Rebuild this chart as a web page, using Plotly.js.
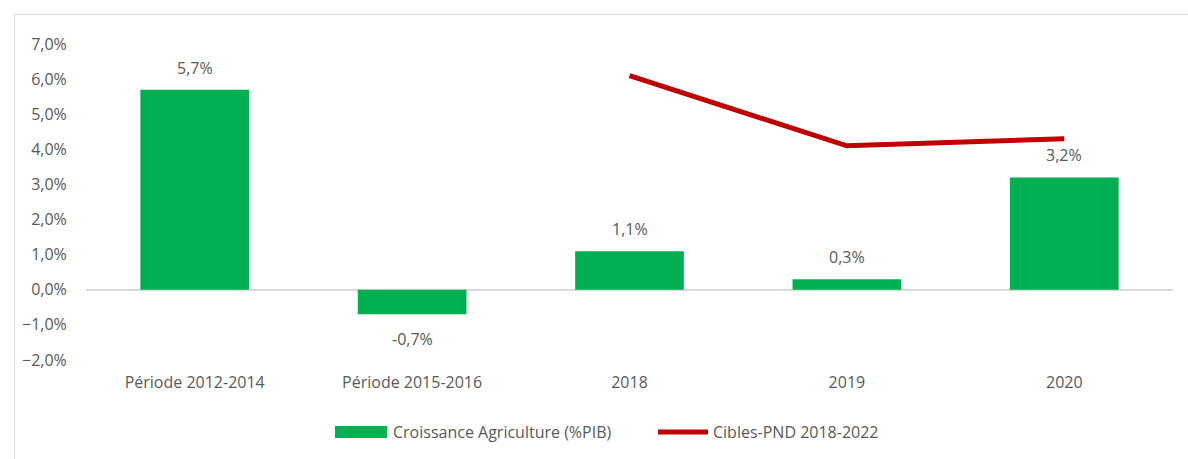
<!DOCTYPE html>
<html>
<head>
<meta charset="utf-8">
<script src="https://cdn.plot.ly/plotly-3.0.1.min.js"></script>
<style>
  html, body { margin:0; padding:0; background:#fff; }
  #wrap { position:relative; width:1188px; height:459px; overflow:hidden; }
  #chart { width:1188px; height:459px; }
  #frame { position:absolute; left:14px; top:14px; width:1300px; height:600px;
           border-left:1px solid #d9d9d9; border-top:1px solid #d9d9d9; pointer-events:none; }
</style>
</head>
<body>
<div id="wrap"><div id="chart"></div><div id="frame"></div></div>
<script>
const categories = ["Période 2012-2014", "Période 2015-2016", "2018", "2019", "2020"];
const croissance = [5.7, -0.7, 1.1, 0.3, 3.2];
const ciblesCats = ["2018", "2019", "2020"];
const cibles = [6.1, 4.1, 4.3];
const seriesNames = ["Croissance Agriculture (%PIB)", "Cibles-PND 2018-2022"];

const green = "#00B050", red = "#C00000", txt = "#595959";
const font = "Open Sans, sans-serif";

const traces = [
  { type:"bar", x:categories, y:croissance, name:seriesNames[0],
    marker:{color:green}, showlegend:false },
  { type:"scatter", mode:"lines", x:ciblesCats, y:cibles, name:seriesNames[1],
    line:{color:red, width:5}, showlegend:false }
];

const fmt = v => v.toFixed(1).replace(".", ",") + "%";
const annotations = croissance.map((v, i) => ({
  x: i, y: v, xref:"x", yref:"y", text: fmt(v), showarrow:false,
  yanchor:"middle", yshift: v >= 0 ? 22 : -25,
  font:{family:font, size:16, color:txt}
}));

// custom legend
const plotL = 86, plotW = 1188 - 86 - 15, plotT = 44, plotH = 459 - 44 - 99;
const px = x => (x - plotL) / plotW;
const py = y => 1 - (y - plotT) / plotH;
const shapes = [
  { type:"rect", xref:"paper", yref:"paper", x0:px(335), x1:px(387), y0:py(438), y1:py(426),
    fillcolor:green, line:{width:0} },
  { type:"line", xref:"paper", yref:"paper", x0:px(658), x1:px(708), y0:py(432), y1:py(432),
    line:{color:red, width:5} }
];
annotations.push(
  { xref:"paper", yref:"paper", x:px(391), y:py(432), xanchor:"left", yanchor:"middle",
    text:seriesNames[0], showarrow:false, font:{family:font, size:16, color:txt} },
  { xref:"paper", yref:"paper", x:px(711), y:py(432), xanchor:"left", yanchor:"middle",
    text:seriesNames[1], showarrow:false, font:{family:font, size:16, color:txt} }
);

const layout = {
  width:1188, height:459,
  margin:{l:plotL, r:15, t:plotT, b:99, pad:0},
  paper_bgcolor:"#fff", plot_bgcolor:"#fff",
  separators:", ",
  bargap:0.5,
  showlegend:false,
  font:{family:font, size:16, color:txt},
  xaxis:{ type:"category", categoryorder:"array", categoryarray:categories,
          range:[-0.5, categories.length - 0.5], autorange:false,
          showgrid:false, showline:false, zeroline:false,
          ticks:"outside", ticklen:8, tickcolor:"rgba(0,0,0,0)",
          tickfont:{family:font, size:16, color:txt}, fixedrange:true },
  yaxis:{ range:[-2, 7], autorange:false, dtick:1, tickformat:".1f", ticksuffix:"%",
          showgrid:false, showline:false, zeroline:true, zerolinecolor:"#d9d9d9", zerolinewidth:1.5,
          ticks:"outside", ticklen:15, tickcolor:"rgba(0,0,0,0)",
          tickfont:{family:font, size:16, color:txt}, fixedrange:true },
  annotations, shapes
};

Plotly.newPlot("chart", traces, layout, {displayModeBar:false, staticPlot:true});
</script>
</body>
</html>
